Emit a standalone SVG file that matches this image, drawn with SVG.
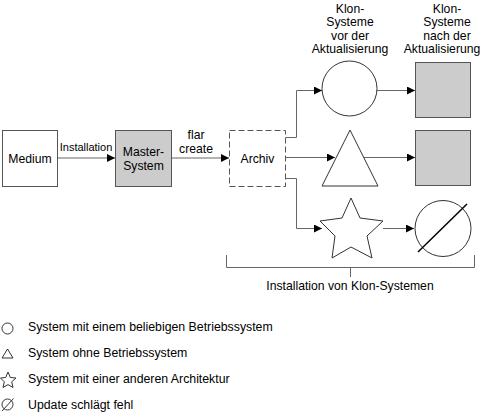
<svg xmlns="http://www.w3.org/2000/svg" width="482" height="415" viewBox="0 0 482 415">
<style>
text{font-family:"Liberation Sans",Arial,sans-serif;font-size:12.2px;fill:#000}
.c{text-anchor:middle}
.small{font-size:11px}
.lg{font-size:12.3px}
.box{fill:#fff;stroke:#555;stroke-width:1}
.gray{fill:#cccccc;stroke:#555;stroke-width:1}
.shape{fill:#fff;stroke:#333;stroke-width:1}
.conn{fill:none;stroke:#666;stroke-width:1}
.leg{fill:#fff;stroke:#333;stroke-width:1}
</style>
<defs>
<marker id="arr" markerUnits="userSpaceOnUse" markerWidth="8" markerHeight="8" refX="8" refY="4" orient="auto">
<path d="M0,0 L8,4 L0,8 z" fill="#000"/>
</marker>
</defs>
<rect width="482" height="415" fill="#fff"/>
<g id="connectors">
<path class="conn" d="M57.5 158 H115" marker-end="url(#arr)"/>
<path class="conn" d="M171.5 158 H229" marker-end="url(#arr)"/>
<path class="conn" d="M285.5 137.5 H296.5 V90.5 H322" marker-end="url(#arr)"/>
<path class="conn" d="M285.5 157.5 H335" marker-end="url(#arr)"/>
<path class="conn" d="M285.5 178.5 H296.5 V228.5 H322" marker-end="url(#arr)"/>
<path class="conn" d="M377 90.5 H415" marker-end="url(#arr)"/>
<path class="conn" d="M364 157.5 H415" marker-end="url(#arr)"/>
<path class="conn" d="M383 228.5 H414" marker-end="url(#arr)"/>
</g>
<g id="medium">
<rect class="box" x="2.5" y="130.5" width="55" height="56"/>
<text class="c" x="30" y="163">Medium</text>
</g>
<text id="lbl-installation" class="c small" x="86" y="151">Installation</text>
<g id="master">
<rect class="gray" x="115.5" y="130.5" width="56" height="56"/>
<text class="c" x="143.5" y="156">Master-</text>
<text class="c" x="143.5" y="170">System</text>
</g>
<g id="lbl-flar">
<text class="c" x="196" y="139">flar</text>
<text class="c" x="196" y="153">create</text>
</g>
<g id="archiv">
<rect x="229.5" y="130.5" width="56" height="56" fill="#fff" stroke="#555" stroke-dasharray="6,3"/>
<text class="c" x="257.5" y="163">Archiv</text>
</g>
<g id="header-before">
<text class="c" x="350" y="12.5">Klon-</text>
<text class="c" x="350" y="26">Systeme</text>
<text class="c" x="350" y="39.5">vor der</text>
<text class="c" x="350" y="53">Aktualisierung</text>
</g>
<g id="header-after">
<text class="c" x="447" y="12.5">Klon-</text>
<text class="c" x="447" y="26">Systeme</text>
<text class="c" x="447" y="39.5">nach der</text>
<text class="c" x="442" y="53">Aktualisierung</text>
</g>
<g id="circle-before">
<circle class="shape" cx="349.5" cy="88.5" r="27.5"/>
</g>
<g id="square-top">
<rect class="gray" x="415.5" y="62.5" width="55" height="55"/>
</g>
<g id="triangle">
<polygon class="shape" points="350,130 322,186 378,186"/>
</g>
<g id="square-mid">
<rect class="gray" x="415.5" y="130.5" width="55" height="55"/>
</g>
<g id="star">
<polygon class="shape" points="351,198 360,218 383,221 367,236 372,258 351,247 332,258 335,236 320,221 342,218"/>
</g>
<g id="failed">
<circle class="shape" cx="443" cy="228.5" r="28"/>
<line x1="418" y1="252" x2="467" y2="204" stroke="#000" stroke-width="1.5"/>
</g>
<g id="bracket">
<path class="conn" d="M226.5 255 V267.5 H474.5 V255 M350.5 267.5 V277"/>
<text class="c" x="350" y="290">Installation von Klon-Systemen</text>
</g>
<g id="legend">
<circle class="leg" cx="7.5" cy="328.5" r="5.5"/>
<text class="lg" x="28" y="331">System mit einem beliebigen Betriebssystem</text>
<polygon class="leg" points="7.5,349 2,358 13,358"/>
<text class="lg" x="28" y="357">System ohne Betriebssystem</text>
<polygon class="leg" points="8,372 10.3,377.5 16,378 11.7,381.8 13,387.5 8,384.6 3,387.5 4.3,381.8 0.5,378 5.7,377.5"/>
<text class="lg" x="28" y="383">System mit einer anderen Architektur</text>
<circle class="leg" cx="7.5" cy="404.5" r="5.5"/>
<line x1="2" y1="411" x2="13.5" y2="398.5" stroke="#333" stroke-width="1"/>
<text class="lg" x="28" y="409">Update schlägt fehl</text>
</g>
</svg>
